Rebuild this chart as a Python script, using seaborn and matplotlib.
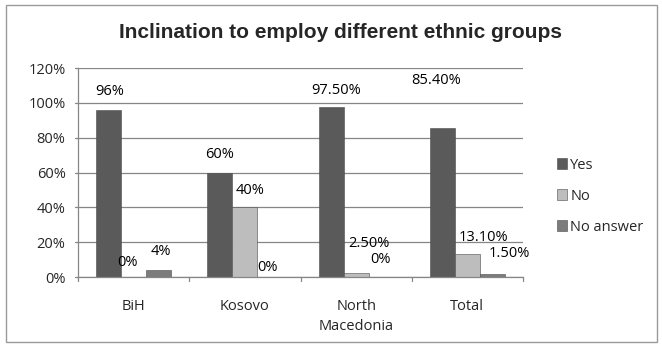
import matplotlib
matplotlib.use("Agg")
import matplotlib.pyplot as plt
import matplotlib.patches as mpatches
import seaborn as sns
import pandas as pd

categories = ["BiH", "Kosovo", "North\nMacedonia", "Total"]
series = ["Yes", "No", "No answer"]
yes_vals = [96, 60, 97.5, 85.4]
no_vals = [0, 40, 2.5, 13.1]
noans_vals = [4, 0, 0, 1.5]
yes_labels = ["96%", "60%", "97.50%", "85.40%"]
no_labels = ["0%", "40%", "2.50%", "13.10%"]
noans_labels = ["4%", "0%", "0%", "1.50%"]
yticks = [0, 20, 40, 60, 80, 100, 120]
ytick_labels = ["0%", "20%", "40%", "60%", "80%", "100%", "120%"]

rows = []
for s, vals in zip(series, [yes_vals, no_vals, noans_vals]):
    for c, v in zip(categories, vals):
        rows.append({"Country": c, "Answer": s, "Value": v})
df = pd.DataFrame(rows)

sns.set_theme(style="white")
plt.rcParams["font.family"] = ["Open Sans", "DejaVu Sans"]

colors = {"Yes": "#5a5a5a", "No": "#bdbdbd", "No answer": "#7c7c7c"}
FS = 10.5

fig = plt.figure(figsize=(6.62, 3.47), dpi=100)
ax = fig.add_axes([0.118, 0.2017, 0.672, 0.6023])

sns.barplot(data=df, x="Country", y="Value", hue="Answer", order=categories,
            hue_order=series, palette=colors, width=0.675, ax=ax,
            saturation=1, edgecolor="#4a4a4a", linewidth=0.4, legend=False)

ax.set_ylim(0, 120)
ax.set_xlim(-0.5, 3.5)
ax.set_yticks(yticks)
ax.set_yticklabels(ytick_labels, fontsize=FS)
ax.set_xticks(range(len(categories)))
ax.set_xticklabels(categories, fontsize=FS, linespacing=1.4)
ax.tick_params(axis="x", length=0, pad=16)
ax.tick_params(axis="y", length=0, pad=9)
for b in [-0.5, 0.5, 1.5, 2.5, 3.5]:
    ax.plot([b, b], [0, -2.2], color="#868686", lw=0.9, clip_on=False)
for yv in yticks:
    ax.plot([-0.5, -0.53], [yv, yv], color="#868686", lw=0.9, clip_on=False)
ax.yaxis.grid(True, color="#868686", lw=0.9)
ax.set_axisbelow(True)
for sp in ["top", "right"]:
    ax.spines[sp].set_visible(False)
for sp in ["left", "bottom"]:
    ax.spines[sp].set_color("#868686")
    ax.spines[sp].set_linewidth(0.9)
ax.set_xlabel("")
ax.set_ylabel("")

# label offsets in pixels (dx, dy) relative to bar top centre
offsets = {
    "Yes": [(1, 18), (0, 18), (5, 17), (-6, 48)],
    "No": [(-6, 15), (5, 17), (13, 29), (16, 17)],
    "No answer": [(2, 19), (-2, 10), (-1, 18), (17, 21)],
}
label_lists = {"Yes": yes_labels, "No": no_labels, "No answer": noans_labels}
for s, cont in zip(series, ax.containers):
    for i, bar in enumerate(cont):
        x = bar.get_x() + bar.get_width() / 2
        h = bar.get_height()
        dx, dy = offsets[s][i]
        ax.annotate(label_lists[s][i], (x, h), xytext=(dx, dy),
                    textcoords="offset pixels", ha="center", va="center",
                    fontsize=FS, color="#000000")

handles = [mpatches.Patch(facecolor=colors[s], edgecolor="#4a4a4a", linewidth=0.4, label=s) for s in series]
fig.legend(handles=handles, loc="center left", bbox_to_anchor=(0.822, 0.435),
           frameon=False, fontsize=FS, handlelength=0.7, handleheight=0.7,
           handletextpad=0.2, labelspacing=1.1)

fig.text(0.5136, 0.905, "Inclination to employ different ethnic groups",
         ha="center", va="center", fontsize=15, fontweight="bold",
         family=["Liberation Sans", "DejaVu Sans"])

frame = mpatches.Rectangle((6 / 662, 5 / 347), 651 / 662, 337 / 347, transform=fig.transFigure,
                           fill=False, edgecolor="#9a9a9a", linewidth=1.0)
fig.patches.append(frame)

fig.savefig("out.png", dpi=100)
